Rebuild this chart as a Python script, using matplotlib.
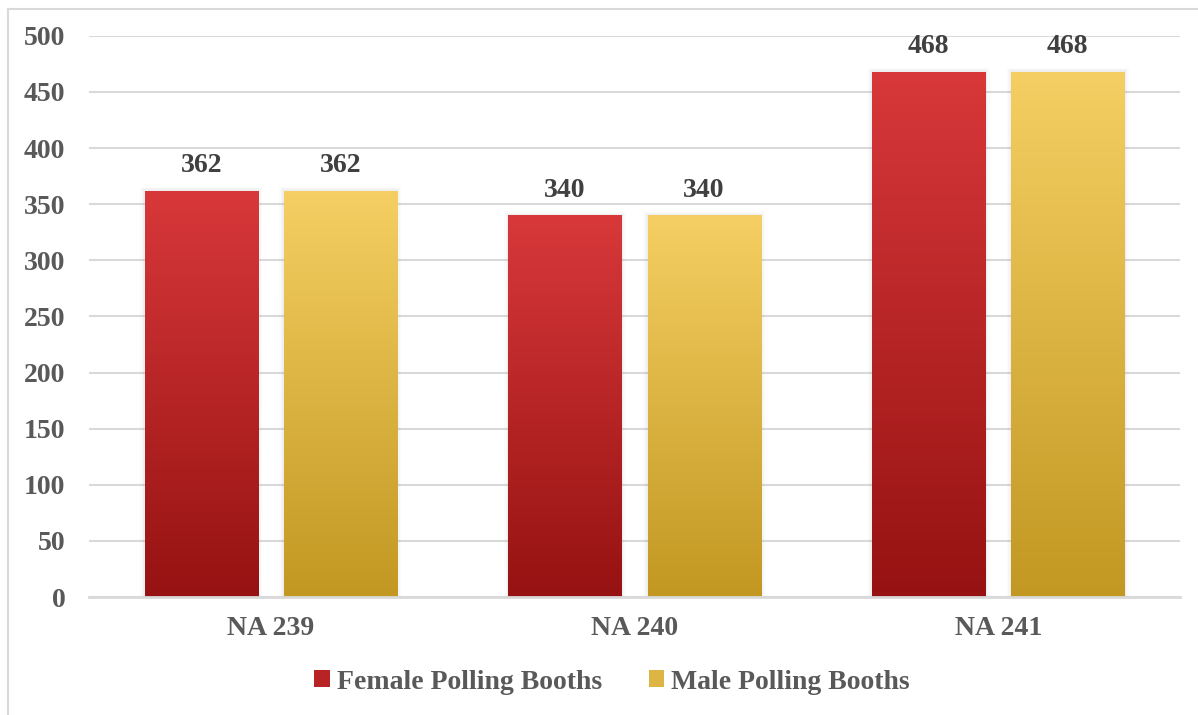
import numpy as np
import matplotlib
matplotlib.use("Agg")
import matplotlib.pyplot as plt
from matplotlib.colors import LinearSegmentedColormap
from matplotlib.patches import Rectangle, Patch
from matplotlib.lines import Line2D

# Data
categories = ["NA 239", "NA 240", "NA 241"]
female_booths = [362, 340, 468]
male_booths = [362, 340, 468]
series_names = ["Female Polling Booths", "Male Polling Booths"]
y_ticks = [0, 50, 100, 150, 200, 250, 300, 350, 400, 450, 500]

# Styling
red_top, red_bottom = "#D8383A", "#961212"
gold_top, gold_bottom = "#F5CF63", "#C29822"
tick_color = "#595959"
label_color = "#404040"
grid_color = "#D9D9D9"
fs = 20

plt.rcParams["font.family"] = ["Liberation Serif", "DejaVu Serif"]
plt.rcParams["font.weight"] = "bold"

fig = plt.figure(figsize=(11.98, 7.15), dpi=100)
ax = fig.add_axes([0.0743, 0.165, 0.9107, 0.785])

x = np.arange(len(categories))
width = 0.311
offset = 0.1912

ax.set_xlim(-0.5, len(categories) - 0.5)
ax.set_ylim(0, 500)

def gradient_bars(xpos, values, top, bottom):
    bars = ax.bar(xpos, values, width, color="none", edgecolor="none", zorder=3)
    cmap = LinearSegmentedColormap.from_list("g", [bottom, top])
    grad = np.linspace(0, 1, 256).reshape(-1, 1)
    for b in bars:
        x0, w, h = b.get_x(), b.get_width(), b.get_height()
        # soft drop shadow
        for i, a in enumerate([0.05, 0.04, 0.03]):
            pad = 0.004 * (i + 1)
            ax.add_patch(Rectangle((x0 - pad, 0), w + 2 * pad, h + 1.2 * (i + 1),
                                   facecolor="#808080", alpha=a, edgecolor="none", zorder=2))
        im = ax.imshow(grad, cmap=cmap, origin="lower", aspect="auto",
                       extent=[x0, x0 + w, 0, h], zorder=3, interpolation="bicubic")
        im.set_clip_path(b)
    return bars

bars_f = gradient_bars(x - offset, female_booths, red_top, red_bottom)
bars_m = gradient_bars(x + offset, male_booths, gold_top, gold_bottom)
ax.set_xlim(-0.5, len(categories) - 0.5)
ax.set_ylim(0, 500)

for bars, vals in ((bars_f, female_booths), (bars_m, male_booths)):
    for b, v in zip(bars, vals):
        ax.annotate(f"{v}", (b.get_x() + b.get_width() / 2, v), xytext=(0, 9),
                    textcoords="offset points", ha="center", va="bottom",
                    fontsize=fs, fontweight="bold", color=label_color, zorder=5)

ax.set_yticks(y_ticks)
ax.set_xticks(x)
ax.set_xticklabels(categories)
ax.tick_params(axis="y", length=0, pad=17, labelsize=fs, labelcolor=tick_color)
ax.tick_params(axis="x", length=0, pad=14, labelsize=fs, labelcolor=tick_color)
for lab in ax.get_xticklabels() + ax.get_yticklabels():
    lab.set_fontweight("bold")

ax.grid(axis="y", color=grid_color, linewidth=1.5, zorder=0)
ax.set_axisbelow(True)
for s in ["top", "right", "left"]:
    ax.spines[s].set_visible(False)
ax.spines["bottom"].set_color(grid_color)
ax.spines["bottom"].set_linewidth(2)
ax.spines["bottom"].set_zorder(4)

handles = [Patch(facecolor="#B82426", edgecolor="none"),
           Patch(facecolor="#DDB545", edgecolor="none")]
leg = fig.legend(handles, series_names, loc="center", bbox_to_anchor=(0.511, 0.046),
                 ncol=2, frameon=False, handlelength=0.55, handleheight=0.55,
                 handletextpad=0.25, columnspacing=1.7, labelcolor=tick_color,
                 prop={"weight": "bold", "size": fs})

# outer chart frame
fig.add_artist(Line2D([0.0067, 1.0], [0.988, 0.988], transform=fig.transFigure,
                      color="#D9D9D9", linewidth=1.5))
fig.add_artist(Line2D([0.0067, 0.0067], [0.0, 0.988], transform=fig.transFigure,
                      color="#D9D9D9", linewidth=1.5))

fig.savefig("out.png", dpi=100)
